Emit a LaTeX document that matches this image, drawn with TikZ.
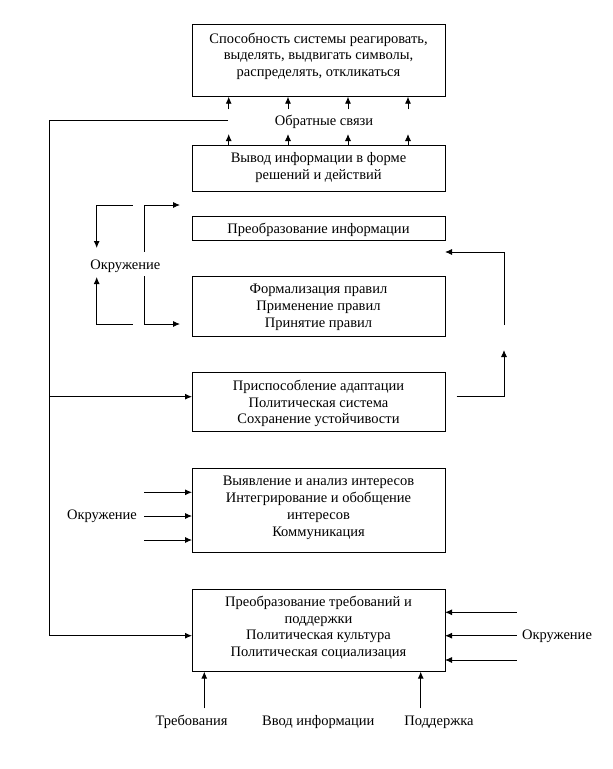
\documentclass[tikz,border=0pt]{standalone}
\usepackage{fontspec}
\setmainfont{Liberation Serif}
\usetikzlibrary{arrows.meta}
\begin{document}
\begin{tikzpicture}[x=1pt,y=-1pt,
  box/.style={draw, line width=0.9pt, minimum width=253pt, inner sep=0pt, outer sep=0pt},
  txt/.style={align=center, font=\fontsize{14.5}{16.8}\selectfont, inner sep=0pt},
  ln/.style={line width=0.9pt},
  arr/.style={line width=0.9pt, -{Latex[length=7pt,width=6pt]}}]
\useasboundingbox (0,0) rectangle (613,769);

% boxes
\node[box, minimum height=72.4pt] (b1) at (318.5,60.5) {};
\node[box, minimum height=46.7pt] (b2) at (318.5,168.3) {};
\node[box, minimum height=23.3pt] (b3) at (318.5,228.3) {};
\node[box, minimum height=59.3pt] (b4) at (318.5,306.3) {};
\node[box, minimum height=59.7pt] (b5) at (318.5,401.8) {};
\node[box, minimum height=84pt]   (b6) at (318.5,510.3) {};
\node[box, minimum height=82.7pt] (b7) at (318.5,630.3) {};

% box texts
\node[txt] (t1) at (318.5,56.2) {Способность системы реагировать,\\выделять, выдвигать символы,\\распределять, откликаться};
\node[txt] (t2) at (318.5,167.2) {Вывод информации в форме\\решений и действий};
\node[txt] (t3) at (318.5,230) {Преобразование информации};
\node[txt] (t4) at (318.5,307.5) {Формализация правил\\Применение правил\\Принятие правил};
\node[txt] (t5) at (318.5,403.5) {Приспособление адаптации\\Политическая система\\Сохранение устойчивости};
\node[txt] (t6) at (318.5,507.8) {Выявление и анализ интересов\\Интегрирование и обобщение\\интересов\\Коммуникация};
\node[txt] (t7) at (318.5,627.8) {Преобразование требований и\\поддержки\\Политическая культура\\Политическая социализация};

% feedback label and arrows
\node[txt] (fb) at (324,122.2) {Обратные связи};
\foreach \i/\x in {1/228.7,2/288,3/348,4/408}{
  \coordinate (u\i) at (\x,109.3);
  \coordinate (l\i) at (\x,134);
  \draw[arr] (u\i) -- (u\i |- b1.south);
  \draw[arr] (l\i |- b2.north) -- (l\i);
}

% long feedback line on the left
\coordinate (fbs) at (228,120);
\coordinate (fbc) at (49,120);
\coordinate (fbb) at (49,635.7);
\coordinate (fbm) at (49,396.7);
\draw[ln] (fbs) -- (fbc) -- (fbb);
\draw[arr] (fbb) -- (fbb -| b7.west);
\draw[arr] (fbm) -- (fbm -| b5.west);

% environment loops (upper left)
\node[txt] (env1) at (125.3,266.5) {Окружение};
\coordinate (a1) at (132.7,205);
\coordinate (a2) at (96.7,205);
\coordinate (a3) at (96.7,248);
\draw[arr] (a1) -- (a2) -- (a3);
\coordinate (a4) at (132.7,324);
\coordinate (a5) at (96.7,324);
\coordinate (a6) at (96.7,277);
\draw[arr] (a4) -- (a5) -- (a6);
\coordinate (r1) at (144.3,251.7);
\coordinate (r2) at (144.3,205);
\coordinate (r3) at (180,205);
\draw[arr] (r1) -- (r2) -- (r3);
\coordinate (r4) at (144.3,276);
\coordinate (r5) at (144.3,324);
\coordinate (r6) at (180,324);
\draw[arr] (r4) -- (r5) -- (r6);

% right feedback
\coordinate (q1) at (456.7,396);
\coordinate (q2) at (504,396);
\coordinate (q3) at (504,350);
\draw[arr] (q1) -- (q2) -- (q3);
\coordinate (q4) at (504,325);
\coordinate (q5) at (504,252);
\draw[arr] (q4) -- (q5) -- (q5 -| b3.east);

% environment into box 6
\node[txt] (env2) at (102,516.5) {Окружение};
\foreach \i/\y in {1/492.3,2/516,3/540}{
  \coordinate (e\i) at (144.3,\y);
  \draw[arr] (e\i) -- (e\i -| b6.west);
}

% environment into box 7
\node[txt] (env3) at (557,636.5) {Окружение};
\foreach \i/\y in {1/612.3,2/635.7,3/660}{
  \coordinate (f\i) at (516.7,\y);
  \draw[arr] (f\i) -- (f\i -| b7.east);
}

% inputs at the bottom
\node[txt] (dem) at (191.5,722.2) {Требования};
\node[txt] (inp) at (318.3,722.2) {Ввод информации};
\node[txt] (sup) at (439,722.2) {Поддержка};
\coordinate (d1) at (204.3,708.3);
\coordinate (d2) at (420.7,708.3);
\draw[arr] (d1) -- (d1 |- b7.south);
\draw[arr] (d2) -- (d2 |- b7.south);
\end{tikzpicture}
\end{document}
